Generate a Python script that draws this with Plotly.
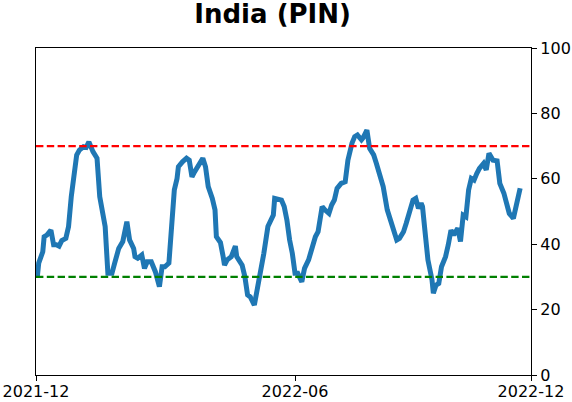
import plotly.graph_objects as go

dates = [
    "2021-12-02", "2021-12-03", "2021-12-06", "2021-12-07", "2021-12-09", "2021-12-12", "2021-12-14",
    "2021-12-16", "2021-12-18", "2021-12-20", "2021-12-23", "2021-12-25", "2021-12-27", "2021-12-29",
    "2021-12-31", "2022-01-02", "2022-01-05", "2022-01-07", "2022-01-09", "2022-01-12", "2022-01-15",
    "2022-01-17", "2022-01-19", "2022-01-21", "2022-01-23", "2022-01-26", "2022-01-28", "2022-01-31",
    "2022-02-03", "2022-02-06", "2022-02-08", "2022-02-11", "2022-02-12", "2022-02-14", "2022-02-17",
    "2022-02-19", "2022-02-21", "2022-02-24", "2022-02-27", "2022-03-02", "2022-03-04", "2022-03-06",
    "2022-03-09", "2022-03-11", "2022-03-13", "2022-03-15", "2022-03-16", "2022-03-19", "2022-03-22",
    "2022-03-24", "2022-03-26", "2022-03-28", "2022-03-30", "2022-04-02", "2022-04-03", "2022-04-05",
    "2022-04-07", "2022-04-10", "2022-04-12", "2022-04-13", "2022-04-16", "2022-04-18", "2022-04-19",
    "2022-04-21", "2022-04-24", "2022-04-27", "2022-04-28", "2022-05-02", "2022-05-04", "2022-05-06",
    "2022-05-08", "2022-05-11", "2022-05-13", "2022-05-16", "2022-05-18", "2022-05-21", "2022-05-23",
    "2022-05-25", "2022-05-26", "2022-05-29", "2022-05-31", "2022-06-02", "2022-06-04", "2022-06-06",
    "2022-06-08", "2022-06-10", "2022-06-12", "2022-06-15", "2022-06-17", "2022-06-20", "2022-06-22",
    "2022-06-25", "2022-06-27", "2022-06-30", "2022-07-02", "2022-07-05", "2022-07-07", "2022-07-09",
    "2022-07-11", "2022-07-14", "2022-07-17", "2022-07-19", "2022-07-22", "2022-07-24", "2022-07-26",
    "2022-07-29", "2022-07-30", "2022-08-02", "2022-08-04", "2022-08-07", "2022-08-09", "2022-08-12",
    "2022-08-14", "2022-08-17", "2022-08-19", "2022-08-21", "2022-08-24", "2022-08-26", "2022-08-29",
    "2022-08-31", "2022-09-03", "2022-09-05", "2022-09-07", "2022-09-09", "2022-09-11", "2022-09-12",
    "2022-09-14", "2022-09-16", "2022-09-19", "2022-09-20", "2022-09-22", "2022-09-24", "2022-09-26",
    "2022-09-29", "2022-10-01", "2022-10-03", "2022-10-05", "2022-10-08", "2022-10-10", "2022-10-12",
    "2022-10-14", "2022-10-16", "2022-10-18", "2022-10-20", "2022-10-22", "2022-10-24", "2022-10-27",
    "2022-10-29", "2022-10-31", "2022-11-03", "2022-11-06", "2022-11-08", "2022-11-11", "2022-11-13",
    "2022-11-15", "2022-11-18", "2022-11-20", "2022-11-23",
]

values = [
    30.1, 34.2, 37.7, 42.3, 42.8, 44.3, 39.8,
    39.8, 39.4, 41.1, 41.8, 45.4, 54.5, 60.1,
    67.3, 68.8, 69.8, 69.6, 71.3, 68.3, 66.3,
    54.5, 49.4, 45.4, 31.1, 31.1, 34.2, 38.7,
    40.8, 46.9, 41.3, 38.7, 36.2, 35.7, 36.7,
    32.6, 34.6, 34.6, 31.6, 27.0, 33.1, 33.1,
    34.2, 47.4, 56.6, 60.1, 63.7, 65.2, 66.3,
    65.7, 60.6, 62.2, 63.7, 65.2, 66.3, 63.7,
    57.6, 54.0, 50.5, 42.3, 40.5, 36.2, 33.6,
    35.2, 36.2, 39.4, 36.2, 33.6, 30.1, 24.5,
    23.9, 21.4, 26.0, 31.1, 37.2, 45.4, 47.4,
    48.9, 54.0, 53.5, 53.5, 51.5, 47.4, 41.3,
    37.2, 31.1, 31.1, 28.5, 32.6, 35.2, 38.2,
    42.3, 43.8, 51.5, 50.5, 49.4, 52.0, 53.5,
    57.1, 58.6, 59.1, 65.7, 70.9, 72.9, 73.4,
    71.9, 72.4, 74.9, 69.3, 67.3, 64.7, 60.6,
    57.6, 50.5, 47.9, 44.9, 41.3, 41.8, 43.8,
    46.4, 50.5, 53.5, 54.0, 51.0, 52.5, 51.5,
    43.3, 35.2, 29.1, 25.0, 27.5, 28.0, 33.1,
    36.2, 39.8, 44.3, 42.8, 44.9, 40.8, 48.9,
    48.4, 56.6, 60.1, 59.6, 61.6, 63.2, 64.7,
    62.7, 67.8, 65.7, 65.5, 58.6, 55.6, 52.0,
    49.4, 47.9, 51.0, 57.1,
]

x_range = ["2021-12-01", "2022-12-01"]
x_tickvals = ["2021-12-01", "2022-06-10", "2022-12-01"]
x_ticktext = ["2021-12", "2022-06", "2022-12"]
upper_level = 70
lower_level = 30
title_text = "India (PIN)"

fig = go.Figure()
fig.add_trace(go.Scatter(
    x=dates, y=values, mode="lines",
    line=dict(color="#1f77b4", width=5),
    showlegend=False, hoverinfo="skip",
))
fig.add_hline(y=upper_level, line=dict(color="#ff0000", width=2.2, dash="7.4px,3.4px"))
fig.add_hline(y=lower_level, line=dict(color="#008000", width=2.2, dash="7.4px,3.4px"))

fig.update_layout(
    width=572, height=402,
    margin=dict(l=36, r=41, t=48, b=27, autoexpand=False),
    paper_bgcolor="white", plot_bgcolor="white",
    font=dict(family="DejaVu Sans", size=16, color="black"),
    title=dict(
        text="<b>" + title_text + "</b>",
        font=dict(family="DejaVu Sans", size=26, color="black"),
        x=0.478, xref="paper", xanchor="center",
        y=0.965, yref="container", yanchor="middle",
        automargin=False,
    ),
)
fig.update_xaxes(
    type="date", range=x_range,
    tickvals=x_tickvals, ticktext=x_ticktext,
    showgrid=False, zeroline=False, automargin=False,
    showline=True, linecolor="black", linewidth=1.2, mirror=True,
    ticks="outside", ticklen=5, tickcolor="black", tickwidth=1,
    ticklabelstandoff=-3,
    tickfont=dict(size=16, color="black"),
)
fig.update_yaxes(
    range=[0, 100], tickvals=[0, 20, 40, 60, 80, 100],
    side="right", automargin=False,
    showgrid=False, zeroline=False,
    showline=True, linecolor="black", linewidth=1.2, mirror=True,
    ticks="outside", ticklen=5, tickcolor="black", tickwidth=1,
    tickfont=dict(size=16, color="black"),
)

fig.write_html("out.html")
